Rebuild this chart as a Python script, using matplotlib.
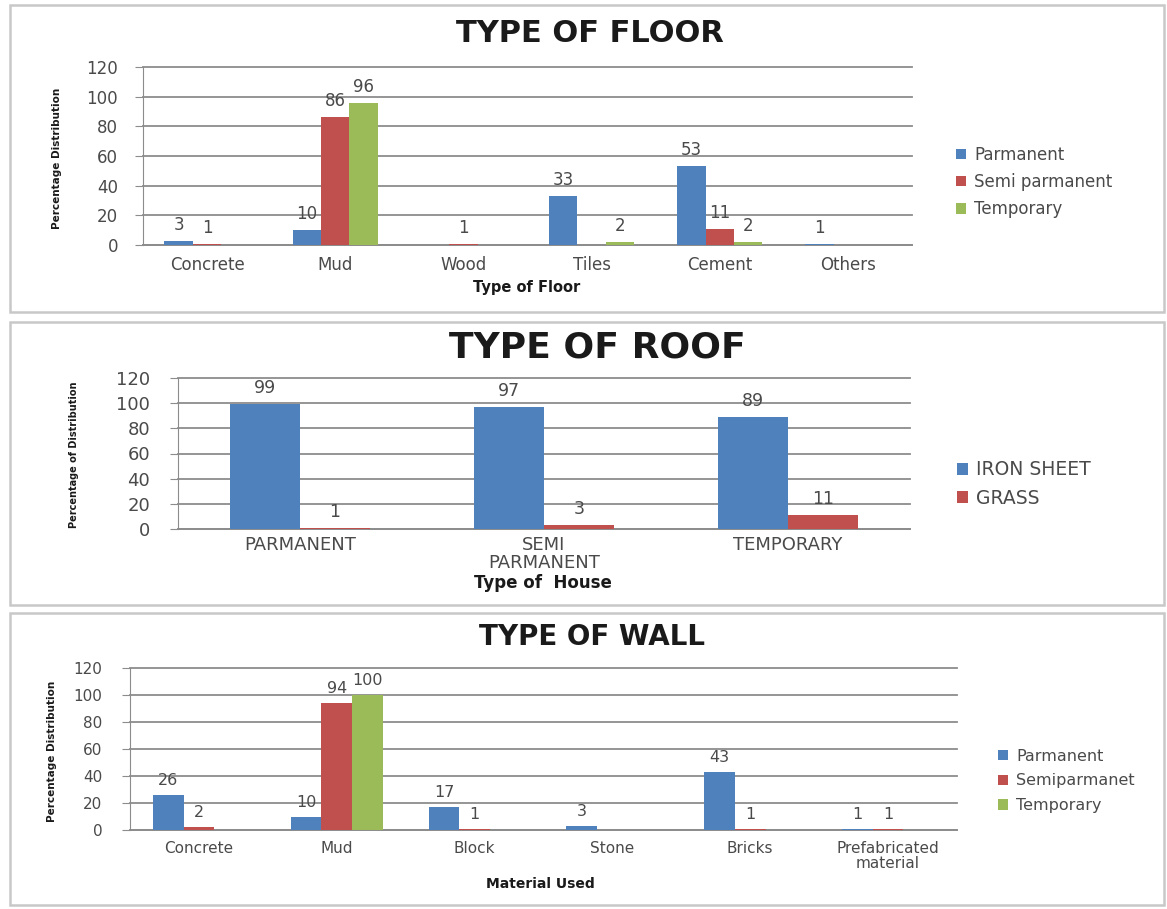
import matplotlib
matplotlib.use("Agg")
import matplotlib.pyplot as plt
from matplotlib.patches import Rectangle

# data
floor_types = ["Concrete", "Mud", "Wood", "Tiles", "Cement", "Others"]
floor_perm = [3, 10, 0, 33, 53, 1]
floor_semi = [1, 86, 1, 0, 11, 0]
floor_temp = [0, 96, 0, 2, 2, 0]
floor_series = ["Parmanent", "Semi parmanent", "Temporary"]

house_types = ["PARMANENT", "SEMI\nPARMANENT", "TEMPORARY"]
roof_iron = [99, 97, 89]
roof_grass = [1, 3, 11]
roof_series = ["IRON SHEET", "GRASS"]

wall_types = ["Concrete", "Mud", "Block", "Stone", "Bricks", "Prefabricated\nmaterial"]
wall_perm = [26, 10, 17, 3, 43, 1]
wall_semi = [2, 94, 1, 0, 1, 1]
wall_temp = [0, 100, 0, 0, 0, 0]
wall_series = ["Parmanent", "Semiparmanet", "Temporary"]

colors = ["#4F81BD", "#C0504D", "#9BBB59"]
grid_c = "#8C8C8C"
txt_c = "#4a4a4a"

W, H = 1167, 909
fig = plt.figure(figsize=(W / 100, H / 100), dpi=100)
plt.rcParams['font.family'] = ['DejaVu Sans']


def px_axes(l, r, t, b):
    return fig.add_axes([l / W, 1 - b / H, (r - l) / W, (b - t) / H])


def frame(l, r, t, b):
    fig.patches.append(Rectangle((l / W, 1 - b / H), (r - l) / W, (b - t) / H,
                                 transform=fig.transFigure, fill=False,
                                 edgecolor="#C8C8C8", lw=1.8))


def ftext(x, y, s, **kw):
    fig.text(x / W, 1 - y / H, s, ha="center", va="center", **kw)


def grouped(ax, cats, series, names, tick_fs, lab_fs, ytick_fs, ypad):
    k = len(series)
    w = 1 / (k + 1.5)
    handles = []
    for i, vals in enumerate(series):
        pos = [j + (i - (k - 1) / 2) * w for j in range(len(cats))]
        b = ax.bar(pos, vals, w, color=colors[i], label=names[i], zorder=3)
        ax.bar_label(b, labels=[str(v) if v else "" for v in vals],
                     padding=5, fontsize=lab_fs, color=txt_c)
        handles.append(b)
    ax.set_xlim(-0.5, len(cats) - 0.5)
    ax.set_ylim(0, 120)
    ax.set_yticks(range(0, 121, 20))
    ax.set_xticks(range(len(cats)))
    ax.set_xticklabels(cats, fontsize=tick_fs, color=txt_c, linespacing=1.0)
    ax.tick_params(axis="y", labelsize=ytick_fs, labelcolor=txt_c, length=6,
                   color=grid_c, pad=ypad)
    ax.tick_params(axis="x", length=0, pad=8)
    ax.grid(axis="y", color=grid_c, lw=1.3, zorder=0)
    for gl in ax.get_ygridlines():
        gl.set_clip_on(False)
    for s in ["top", "right"]:
        ax.spines[s].set_visible(False)
    ax.spines["left"].set_color(grid_c)
    ax.spines["bottom"].set_color(grid_c)
    ax.spines["bottom"].set_linewidth(1.3)
    return handles


# ---- TYPE OF FLOOR ----
frame(10, 1164, 5, 312)
ax1 = px_axes(143, 912, 67, 245)
h1 = grouped(ax1, floor_types, [floor_perm, floor_semi, floor_temp], floor_series,
             12, 12, 12, 12)
ftext(590, 33, "TYPE OF FLOOR", fontsize=22, fontweight="bold", color="#1a1a1a")
ftext(527, 287, "Type of Floor", fontsize=10.5, fontweight="bold", color="#1a1a1a")
ftext(57, 158, "Percentage Distribution", fontsize=7.5, fontweight="bold",
      rotation=90, color="#1a1a1a")
fig.legend(h1, floor_series, loc="center left", bbox_to_anchor=(941 / W, 1 - 182 / H),
           frameon=False, fontsize=12, handlelength=0.6, handleheight=0.6,
           labelspacing=0.55, handletextpad=0.5, labelcolor=txt_c)

# ---- TYPE OF ROOF ----
frame(10, 1164, 322, 605)
ax2 = px_axes(178, 910, 378, 529)
h2 = grouped(ax2, house_types, [roof_iron, roof_grass], roof_series, 13, 12.5, 13, 14)
ax2.tick_params(axis="x", pad=5)
ftext(597, 348, "TYPE OF ROOF", fontsize=26, fontweight="bold", color="#1a1a1a")
ftext(543, 583, "Type of  House", fontsize=12, fontweight="bold", color="#1a1a1a")
ftext(74, 455, "Percentage of Distribution", fontsize=7, fontweight="bold",
      rotation=90, color="#1a1a1a")
fig.legend(h2, roof_series, loc="center left", bbox_to_anchor=(940 / W, 1 - 484 / H),
           frameon=False, fontsize=13.5, handlelength=0.6, handleheight=0.6,
           labelspacing=0.5, handletextpad=0.4, labelcolor=txt_c)

# ---- TYPE OF WALL ----
frame(10, 1164, 613, 905)
ax3 = px_axes(130, 957, 668, 830)
h3 = grouped(ax3, wall_types, [wall_perm, wall_semi, wall_temp], wall_series,
             11, 11.5, 11, 14)
ftext(592, 637, "TYPE OF WALL", fontsize=20, fontweight="bold", color="#1a1a1a")
ftext(540, 884, "Material Used", fontsize=10, fontweight="bold", color="#1a1a1a")
ftext(52, 751, "Percentage Distribution", fontsize=7.5, fontweight="bold",
      rotation=90, color="#1a1a1a")
fig.legend(h3, wall_series, loc="center left", bbox_to_anchor=(984 / W, 1 - 781 / H),
           frameon=False, fontsize=11.5, handlelength=0.6, handleheight=0.6,
           labelspacing=0.6, handletextpad=0.5, labelcolor=txt_c)

fig.savefig("out.png", dpi=100)
